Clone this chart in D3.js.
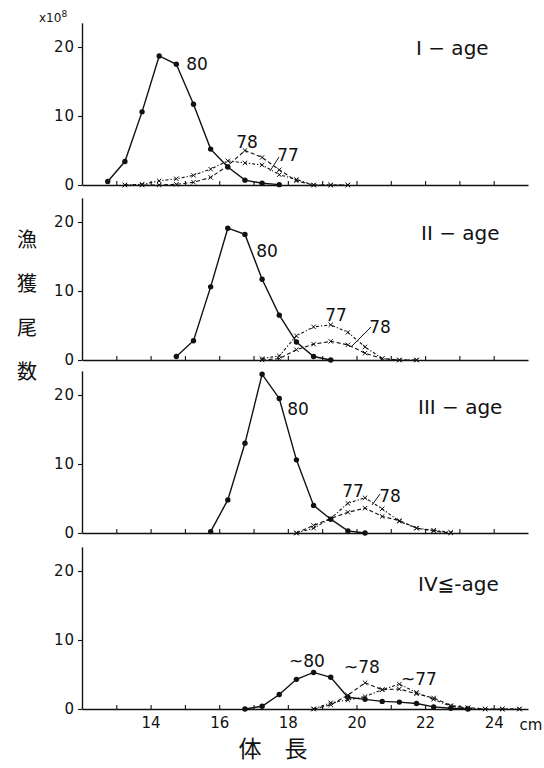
<!DOCTYPE html>
<html>
<head>
<meta charset="utf-8">
<script src="https://cdn.jsdelivr.net/npm/d3@7"></script>
<style>
  html, body { margin: 0; padding: 0; background: #fff; }
  svg text { fill: #111; }
</style>
</head>
<body>
<svg id="chart" width="544" height="768"></svg>
<script>
// Catch numbers (x10^8) by body length (cm), for each age group and year class.
const ageLabels = ["I − age", "II − age", "III − age", "IV≦-age"];
const xTicks = [13, 14, 15, 16, 17, 18, 19, 20, 21, 22, 23, 24];
const xTickLabels = [14, 16, 18, 20, 22, 24];
const yTicks = [0, 10, 20];

// Age I
const ageI_len80 = [12.75, 13.25, 13.75, 14.25, 14.75, 15.25, 15.75, 16.25, 16.75, 17.25, 17.75];
const ageI_val80 = [0.5, 3.4, 10.6, 18.7, 17.5, 11.7, 5.2, 2.6, 0.7, 0.25, 0.05];
const ageI_len78 = [13.25, 13.75, 14.25, 14.75, 15.25, 15.75, 16.25, 16.75, 17.25, 17.75, 18.25, 18.75, 19.25, 19.75];
const ageI_val78 = [0, 0, 0, 0.1, 0.4, 1.1, 2.8, 5.0, 4.0, 2.2, 0.6, 0, 0, 0];
const ageI_len77 = [13.25, 13.75, 14.25, 14.75, 15.25, 15.75, 16.25, 16.75, 17.25, 17.75, 18.25, 18.75, 19.25, 19.75];
const ageI_val77 = [0, 0.1, 0.6, 0.9, 1.4, 2.3, 3.5, 3.2, 2.9, 1.5, 0.8, 0, 0, 0];

// Age II
const ageII_len80 = [14.75, 15.25, 15.75, 16.25, 16.75, 17.25, 17.75, 18.25, 18.75, 19.25];
const ageII_val80 = [0.5, 2.8, 10.6, 19.1, 18.2, 11.7, 6.5, 2.6, 0.5, 0];
const ageII_len77 = [17.25, 17.75, 18.25, 18.75, 19.25, 19.75, 20.25, 20.75, 21.25, 21.75];
const ageII_val77 = [0.2, 0.6, 3.5, 4.8, 5.1, 4.0, 1.9, 0.2, 0, 0];
const ageII_len78 = [17.25, 17.75, 18.25, 18.75, 19.25, 19.75, 20.25, 20.75, 21.25, 21.75];
const ageII_val78 = [0, 0.2, 1.5, 2.3, 2.7, 2.2, 1.0, 0.2, 0, 0];

// Age III
const ageIII_len80 = [15.75, 16.25, 16.75, 17.25, 17.75, 18.25, 18.75, 19.25, 19.75, 20.25];
const ageIII_val80 = [0.2, 4.8, 13.0, 23.0, 19.5, 10.6, 4.0, 2.0, 0.3, 0];
const ageIII_len77 = [18.25, 18.75, 19.25, 19.75, 20.25, 20.75, 21.25, 21.75, 22.25, 22.75];
const ageIII_val77 = [0, 0.7, 2.1, 4.3, 5.1, 3.5, 1.7, 0.7, 0.4, 0.1];
const ageIII_len78 = [18.25, 18.75, 19.25, 19.75, 20.25, 20.75, 21.25, 21.75, 22.25, 22.75];
const ageIII_val78 = [0, 1.1, 2.1, 3.0, 3.6, 2.4, 1.8, 0.7, 0.3, 0];

// Age IV and older
const ageIV_len80 = [16.75, 17.25, 17.75, 18.25, 18.75, 19.25, 19.75, 20.25, 20.75, 21.25, 21.75, 22.25, 22.75, 23.25];
const ageIV_val80 = [0, 0.4, 2.1, 4.3, 5.3, 4.6, 1.7, 1.4, 1.1, 1.0, 0.8, 0.3, 0.1, 0];
const ageIV_len78 = [18.75, 19.25, 19.75, 20.25, 20.75, 21.25, 21.75, 22.25, 22.75, 23.25, 23.75, 24.25, 24.75];
const ageIV_val78 = [0, 0.6, 2.0, 3.8, 2.8, 2.9, 2.2, 1.6, 0.5, 0.2, 0, 0, 0];
const ageIV_len77 = [18.75, 19.25, 19.75, 20.25, 20.75, 21.25, 21.75, 22.25, 22.75, 23.25, 23.75, 24.25, 24.75];
const ageIV_val77 = [0, 0.9, 1.3, 1.8, 2.8, 3.6, 2.4, 1.4, 0.4, 0.1, 0, 0, 0];

const pair = (xs, ys) => xs.map((c, i) => ({ c, v: ys[i] }));

const panels = [
  {
    baseline: 185, age: ageLabels[0], ageAt: [416, 55],
    s80: pair(ageI_len80, ageI_val80), s77: pair(ageI_len77, ageI_val77), s78: pair(ageI_len78, ageI_val78),
    labels: [{ t: "80", x: 197, y: 70 }, { t: "78", x: 247, y: 148 }, { t: "77", x: 288, y: 161 }],
    leader: [[279, 157], [270, 171]]
  },
  {
    baseline: 360, age: ageLabels[1], ageAt: [421, 240],
    s80: pair(ageII_len80, ageII_val80), s77: pair(ageII_len77, ageII_val77), s78: pair(ageII_len78, ageII_val78),
    labels: [{ t: "80", x: 267, y: 257 }, { t: "77", x: 336, y: 321 }, { t: "78", x: 380, y: 333 }],
    leader: [[371, 327], [351, 347]]
  },
  {
    baseline: 533, age: ageLabels[2], ageAt: [418, 414],
    s80: pair(ageIII_len80, ageIII_val80), s77: pair(ageIII_len77, ageIII_val77), s78: pair(ageIII_len78, ageIII_val78),
    labels: [{ t: "80", x: 298, y: 415 }, { t: "77", x: 353, y: 497 }, { t: "78", x: 390, y: 502 }],
    leader: [[380, 494], [372, 505]]
  },
  {
    baseline: 709, age: ageLabels[3], ageAt: [418, 591],
    s80: pair(ageIV_len80, ageIV_val80), s77: pair(ageIV_len77, ageIV_val77), s78: pair(ageIV_len78, ageIV_val78),
    labels: [{ t: "~80", x: 307, y: 667 }, { t: "~78", x: 362, y: 673 }, { t: "~77", x: 419, y: 685 }],
    leader: null
  }
];

const svg = d3.select("#chart");
const x = d3.scaleLinear().domain([12, 25]).range([82, 528]);
const unit = 6.9;          // pixels per 10^8
const yTop = 23.5;

const font = "'DejaVu Sans', 'Liberation Sans', sans-serif";

panels.forEach((p, idx) => {
  const y = d3.scaleLinear().domain([0, yTop]).range([p.baseline, p.baseline - yTop * unit]);
  const g = svg.append("g");

  // x axis: small upward ticks each cm
  const xAxis = d3.axisBottom(x).tickValues(xTicks).tickSizeInner(-4).tickSizeOuter(0)
    .tickFormat(d => (idx === 3 && xTickLabels.includes(d)) ? d : "");
  const gx = g.append("g").attr("transform", `translate(0,${p.baseline})`).call(xAxis);
  gx.select(".domain").attr("stroke", "#111").attr("stroke-width", 1.4);
  gx.selectAll(".tick line").attr("stroke", "#111").attr("stroke-width", 1.1);
  gx.selectAll(".tick text").attr("font-family", font).attr("font-size", 15).attr("dy", "1.05em");

  // y axis
  const yAxis = d3.axisLeft(y).tickValues(yTicks).tickSizeInner(4).tickSizeOuter(0).tickPadding(3);
  const gy = g.append("g").attr("transform", `translate(${x(12)},0)`).call(yAxis);
  gy.select(".domain").attr("stroke", "#111").attr("stroke-width", 1.4);
  gy.selectAll(".tick line").attr("stroke", "#111").attr("stroke-width", 1.1);
  gy.selectAll(".tick text").attr("font-family", font).attr("font-size", 15).attr("letter-spacing", 1);

  const line = d3.line().x(d => x(d.c)).y(d => y(d.v));

  // year class 78: dashed
  g.append("path").datum(p.s78).attr("d", line).attr("fill", "none")
    .attr("stroke", "#111").attr("stroke-width", 1.1).attr("stroke-dasharray", "4,2.5");
  // year class 77: dash-dot
  g.append("path").datum(p.s77).attr("d", line).attr("fill", "none")
    .attr("stroke", "#111").attr("stroke-width", 1.1).attr("stroke-dasharray", "3,2,1.2,2");

  // x markers for 77 and 78
  [p.s77, p.s78].forEach(s => {
    g.selectAll(null).data(s).enter().append("path")
      .attr("d", d => {
        const cx = x(d.c), cy = y(d.v), r = 2.2;
        return `M${cx - r},${cy - r}L${cx + r},${cy + r}M${cx - r},${cy + r}L${cx + r},${cy - r}`;
      })
      .attr("stroke", "#111").attr("stroke-width", 1);
  });

  // year class 80: solid with dots
  g.append("path").datum(p.s80).attr("d", line).attr("fill", "none")
    .attr("stroke", "#111").attr("stroke-width", 1.4);
  g.selectAll(null).data(p.s80).enter().append("circle")
    .attr("cx", d => x(d.c)).attr("cy", d => y(d.v)).attr("r", 2.7).attr("fill", "#111");

  // series labels
  p.labels.forEach(l => {
    g.append("text").attr("x", l.x).attr("y", l.y).attr("text-anchor", "middle")
      .attr("font-family", font).attr("font-size", 17).text(l.t);
  });
  if (p.leader) {
    g.append("line").attr("x1", p.leader[0][0]).attr("y1", p.leader[0][1])
      .attr("x2", p.leader[1][0]).attr("y2", p.leader[1][1])
      .attr("stroke", "#111").attr("stroke-width", 1);
  }

  // age group label
  g.append("text").attr("x", p.ageAt[0]).attr("y", p.ageAt[1])
    .attr("font-family", font).attr("font-size", 20).text(p.age);
});

// unit
const unitLabel = svg.append("text").attr("x", 39).attr("y", 22)
  .attr("font-family", font).attr("font-size", 12);
unitLabel.append("tspan").text("x10");
unitLabel.append("tspan").attr("dy", -5).attr("font-size", 9).text("8");

// cm
svg.append("text").attr("x", 531).attr("y", 730).attr("text-anchor", "middle")
  .attr("font-family", font).attr("font-size", 15).text("cm");

// y title, stacked vertically
const cjk = "'Noto Sans CJK JP', 'Noto Sans CJK SC', sans-serif";
["漁", "獲", "尾", "数"].forEach((ch, i) => {
  svg.append("text").attr("x", 27).attr("y", 247 + i * 44).attr("text-anchor", "middle")
    .attr("font-family", cjk).attr("font-size", 20).text(ch);
});

// x title
svg.append("text").attr("x", 250).attr("y", 757).attr("text-anchor", "middle")
  .attr("font-family", cjk).attr("font-size", 23).text("体");
svg.append("text").attr("x", 296).attr("y", 757).attr("text-anchor", "middle")
  .attr("font-family", cjk).attr("font-size", 23).text("長");
</script>
</body>
</html>
